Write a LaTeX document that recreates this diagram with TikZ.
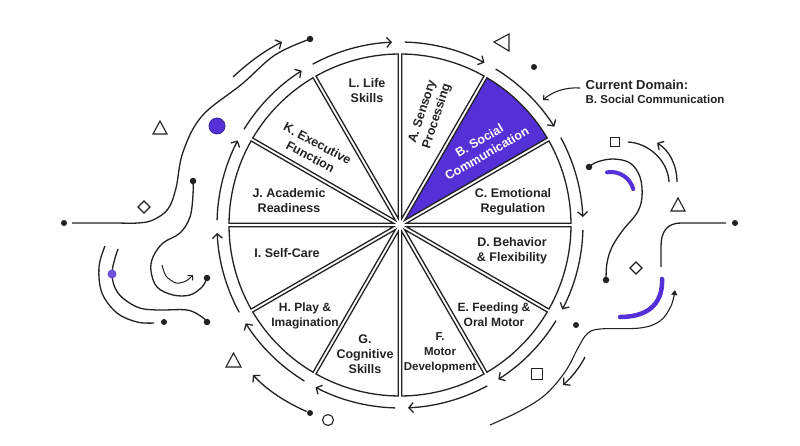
\documentclass[tikz,border=0pt]{standalone}
\usepackage{fontspec}
\setmainfont{Liberation Sans}
\usetikzlibrary{arrows.meta,calc}
\definecolor{ink}{HTML}{222222}
\definecolor{brandpurple}{HTML}{5331D6}
\begin{document}
\begin{tikzpicture}[x=1pt,y=-1pt,line width=1.3pt,color=ink,
  lab/.style={font=\bfseries\fontsize{12.5}{15}\selectfont,align=center,text=ink,inner sep=0pt},
  labsm/.style={font=\bfseries\fontsize{12}{15}\selectfont,align=center,text=ink,inner sep=0pt},
  dot/.style={circle,fill=ink,draw=none,inner sep=0pt,minimum size=6.5pt},
  ringarrow/.style={-{Straight Barb[length=4.5pt,width=10pt]}},
  smallarrow/.style={-{Straight Barb[length=3.5pt,width=7pt]}},
  outline/.style={draw=ink,line width=1.1pt,fill=white},
  purplearc/.style={draw=brandpurple,line width=4.5pt,line cap=round}]
\useasboundingbox (0,0) rectangle (800,446);
\fill[white] (0,0) rectangle (800,446);

\coordinate (C) at (400,225);
\def\R{171}
\def\g{1.7}
\pgfmathsetmacro\dA{asin(\g/\R)}
\pgfmathsetmacro\dI{\g/sin(15)}

% wheel sectors
\foreach \a in {0,30,...,330}{
  \pgfmathsetmacro\bo{-\a-30}
  \pgfmathsetmacro\bt{-\a}
  \pgfmathsetmacro\bm{-\a-15}
  \pgfmathsetmacro\bs{\bo+\dA}
  \pgfmathsetmacro\be{\bt-\dA}
  \ifnum\a=30
    \draw[fill=brandpurple] ($(C)+(\bm:\dI)$) -- ($(C)+(\bs:\R)$) arc[start angle=\bs,end angle=\be,radius=\R] -- cycle;
  \else
    \draw[fill=white] ($(C)+(\bm:\dI)$) -- ($(C)+(\bs:\R)$) arc[start angle=\bs,end angle=\be,radius=\R] -- cycle;
  \fi
}

% ring arrows
\foreach \k in {0,...,11}{
  \pgfmathsetmacro\hs{-(92.5-30*\k+26)}
  \pgfmathsetmacro\he{-(92.5-30*\k)}
  \draw[ringarrow] ($(C)+(\hs:183)$) arc[start angle=\hs,end angle=\he,radius=183];
}

% sector labels
\node[lab] (lL) at (367,91) {L. Life\\Skills};
\node[lab,rotate=72] (lA) at (430,114) {A. Sensory\\Processing};
\node[lab,rotate=30,text=white] (lB) at (483,147) {B. Social\\Communication};
\node[lab] (lC) at (513,202) {C. Emotional\\Regulation};
\node[lab] (lD) at (512,251) {D. Behavior\\\& Flexibility};
\node[labsm] (lE) at (494,315) {E. Feeding \&\\Oral Motor};
\node[font=\bfseries\fontsize{11.5}{15}\selectfont,align=center,text=ink,inner sep=0pt] (lF) at (440,353) {F.\\Motor\\Development};
\node[lab] (lG) at (365,354) {G.\\Cognitive\\Skills};
\node[labsm] (lH) at (305,316) {H. Play \&\\Imagination};
\node[lab] (lI) at (287,253) {I. Self-Care};
\node[lab] (lJ) at (289,201) {J. Academic\\Readiness};
\node[lab,rotate=-28] (lK) at (314,150) {K. Executive\\Function};

% current domain callout
\node[anchor=west,font=\bfseries\fontsize{13}{15}\selectfont,text=ink,inner sep=0pt] (cd1) at (585,85) {Current Domain:};
\node[anchor=west,font=\bfseries\fontsize{11.5}{14}\selectfont,text=ink,inner sep=0pt] (cd2) at (585,99) {B. Social Communication};
\coordinate (cdA) at (580,88);
\coordinate (cdB) at (543,100);
\draw[smallarrow,line width=1.1pt] (cdA) .. controls (565,87) and (552,92) .. (cdB);

% ---------- left decorations ----------
\node[dot] (d1) at (310,39) {};
\coordinate (e1) at (72,223);
\draw plot[smooth,tension=0.6] coordinates {(310,39) (275,55) (242,84) (202,116) (183,152) (176,188) (168,209) (153,220) (138,223) (118,223)} -- (e1);
\node[dot,minimum size=6pt] (d2) at (64,223) {};

\coordinate (t1a) at (233,77);
\coordinate (t1b) at (282,42);
\draw[ringarrow] (t1a) .. controls (248,63) and (264,51) .. (t1b);

\draw[outline] (153,134) -- (167,134) -- (160,121) -- cycle;
\node[circle,fill=brandpurple,draw=brandpurple!70!black,line width=0.8pt,minimum size=16pt,inner sep=0pt] (pc1) at (217,126) {};
\draw[outline] (144,201) -- (150,207) -- (144,213) -- (138,207) -- cycle;

\draw plot[smooth,tension=0.6] coordinates {(193,181) (193,195) (190,217) (180,233) (163,243) (153,257) (151,271) (157,287) (173,295) (190,295) (202,287) (207,278)};
\node[dot] (d3) at (193,181) {};
\node[dot] (d4) at (207,278) {};
\draw[smallarrow,line width=1pt] plot[smooth] coordinates {(162,265) (166,276) (176,283) (186,281) (193,275)};

\draw plot[smooth,tension=0.6] coordinates {(105,246) (99,267) (102,293) (117,313) (137,322) (154,323)};
\node[dot,minimum size=6pt] (d5) at (164,322) {};
\draw plot[smooth,tension=0.6] coordinates {(118,249) (112,273) (118,293) (137,307) (157,310) (187,310) (202,317) (207,322)};
\node[dot] (d6) at (207,322) {};
\node[circle,fill=brandpurple!85!white,draw=none,minimum size=9pt,inner sep=0pt] (pc2) at (112,274) {};

\draw[outline] (226,367) -- (241,367) -- (233.5,353) -- cycle;
\node[dot,minimum size=6pt] (d7) at (310,413) {};
\coordinate (t2) at (253,375);
\draw[ringarrow] (d7) .. controls (285,402) and (267,390) .. (t2);
\node[circle,draw=ink,line width=1.1pt,minimum size=11pt,inner sep=0pt] (oc1) at (328,420) {};

% ---------- right decorations ----------
\draw[outline] (494,42) -- (509,34) -- (509,51) -- cycle;
\node[dot,minimum size=6pt] (d8) at (534,67) {};

\draw[outline] (610.5,137.5) rectangle (619.5,146.5);
\coordinate (r1a) at (628,142);
\coordinate (r1b) at (669,182);
\draw (r1a) .. controls (648,143) and (668,160) .. (r1b);
\coordinate (r2a) at (677,182);
\coordinate (r2b) at (657,143);
\draw[ringarrow] (r2a) .. controls (677,165) and (669,150) .. (r2b);

\draw plot[smooth,tension=0.6] coordinates {(589,167) (597,162) (613,159) (630,163) (640,177) (642,197) (637,213) (623,230) (612,247) (607,263) (606,280)};
\node[dot] (d9) at (589,167) {};
\node[dot] (d10) at (606,280) {};
\coordinate (pA) at (611,195);
\draw[purplearc,line width=4pt] ($(pA)+(-100:23)$) arc[start angle=-100,end angle=-15,radius=23];

\draw[outline] (671,211) -- (685,211) -- (678,198) -- cycle;
\node[dot,minimum size=6pt] (d11) at (735,223) {};
\coordinate (r3) at (661,267);
\draw (726,223) -- (681,223) .. controls (667,223) and (661,232) .. (661,246) -- (r3);
\draw[outline] (636,262) -- (642,268) -- (636,274) -- (630,268) -- cycle;

\coordinate (pB1) at (662,279);
\coordinate (pB2) at (620,317);
\draw[purplearc] (pB1) .. controls (663,300) and (652,317) .. (pB2);

\coordinate (r4) at (675,284);
\draw[-{Triangle[length=5pt,width=6pt]},line width=1.1pt] plot[smooth,tension=0.6] coordinates {(490,425) (520,411) (545,395) (565,372) (578,348) (587,334) (600,329) (640,328) (660,321) (671,306) (675,290)};
\node[dot,minimum size=6pt] (d12) at (576,325) {};
\coordinate (r5a) at (585,357);
\coordinate (r5b) at (563,385);
\draw[ringarrow] (r5a) .. controls (580,367) and (572,377) .. (r5b);
\draw[outline] (531.5,368.5) rectangle (542.5,379.5);
\end{tikzpicture}
\end{document}
